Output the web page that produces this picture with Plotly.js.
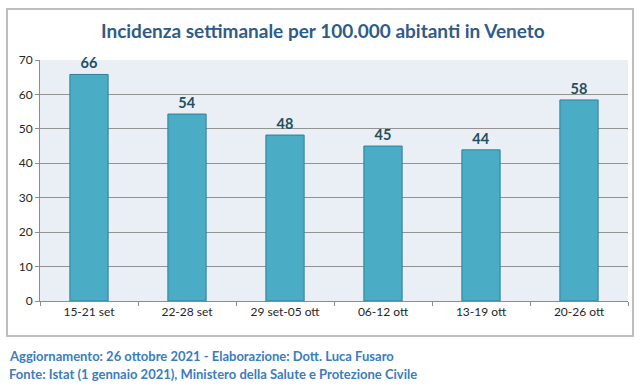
<!DOCTYPE html>
<html><head><meta charset="utf-8">
<script src="https://cdn.plot.ly/plotly-3.0.1.min.js"></script>
<style>html,body{margin:0;padding:0;background:#fff}#c{width:644px;height:388px}</style>
</head><body><div id="c"></div>
<script>
var weeks = ["15-21 set","22-28 set","29 set-05 ott","06-12 ott","13-19 ott","20-26 ott"];
var incidence = [65.8, 54.3, 48.2, 45.0, 43.9, 58.4];
var labels = ["66","54","48","45","44","58"];
var yTicks = [0,10,20,30,40,50,60,70];

var trace = {
  type: "bar", x: weeks, y: incidence,
  text: labels, textposition: "outside", cliponaxis: false,
  textfont: {family: "Lato, sans-serif", size: 14.5, color: "#234f60", weight: 700},
  marker: {color: "#4bacc6", line: {color: "#2f7f99", width: 1}},
  hoverinfo: "x+y"
};
var layout = {
  width: 644, height: 388,
  margin: {l: 40, r: 16, t: 60, b: 87},
  paper_bgcolor: "#ffffff", plot_bgcolor: "#e9eff4",
  bargap: 0.61, showlegend: false,
  title: {text: "<b>Incidenza settimanale per 100.000 abitanti in Veneto</b>",
    font: {family: "Lato, sans-serif", size: 19, color: "#2e5b8a"},
    x: 0.481, xref: "paper", xanchor: "center", y: 0.918, yanchor: "middle"},
  xaxis: {type: "category", tickson: "boundaries", ticks: "outside", ticklen: 4,
    tickcolor: "#8c8c8c", showline: true, linecolor: "#8c8c8c", linewidth: 1,
    tickfont: {family: "Lato, sans-serif", size: 12, color: "#262626"}, fixedrange: true},
  yaxis: {range: [0, 70], tickvals: yTicks, ticks: "outside", ticklen: 4,
    tickcolor: "#8c8c8c", showline: true, linecolor: "#8c8c8c", linewidth: 1,
    gridcolor: "#939393", gridwidth: 1, zeroline: false,
    tickfont: {family: "Lato, sans-serif", size: 12, color: "#262626"}, fixedrange: true},
  shapes: [{type: "rect", xref: "paper", yref: "paper",
    x0: -0.0561, x1: 1.0085, y0: -0.1452, y1: 1.2116,
    line: {color: "#bfbfbf", width: 2}, fillcolor: "rgba(0,0,0,0)", layer: "below"}],
  annotations: [
    {text: "Aggiornamento: 26 ottobre 2021 - Elaborazione: Dott. Luca Fusaro",
     xref: "paper", yref: "paper", x: -0.0561, y: -0.228, xanchor: "left", yanchor: "middle",
     showarrow: false, font: {family: "Lato, sans-serif", size: 13, color: "#3a7cc0", weight: 700}},
    {text: "Fonte: Istat (1 gennaio 2021), Ministero della Salute e Protezione Civile",
     xref: "paper", yref: "paper", x: -0.0561, y: -0.303, xanchor: "left", yanchor: "middle",
     showarrow: false, font: {family: "Lato, sans-serif", size: 13, color: "#3a7cc0", weight: 700}}
  ]
};
Plotly.newPlot("c", [trace], layout, {displayModeBar: false, staticPlot: true});
</script></body></html>
